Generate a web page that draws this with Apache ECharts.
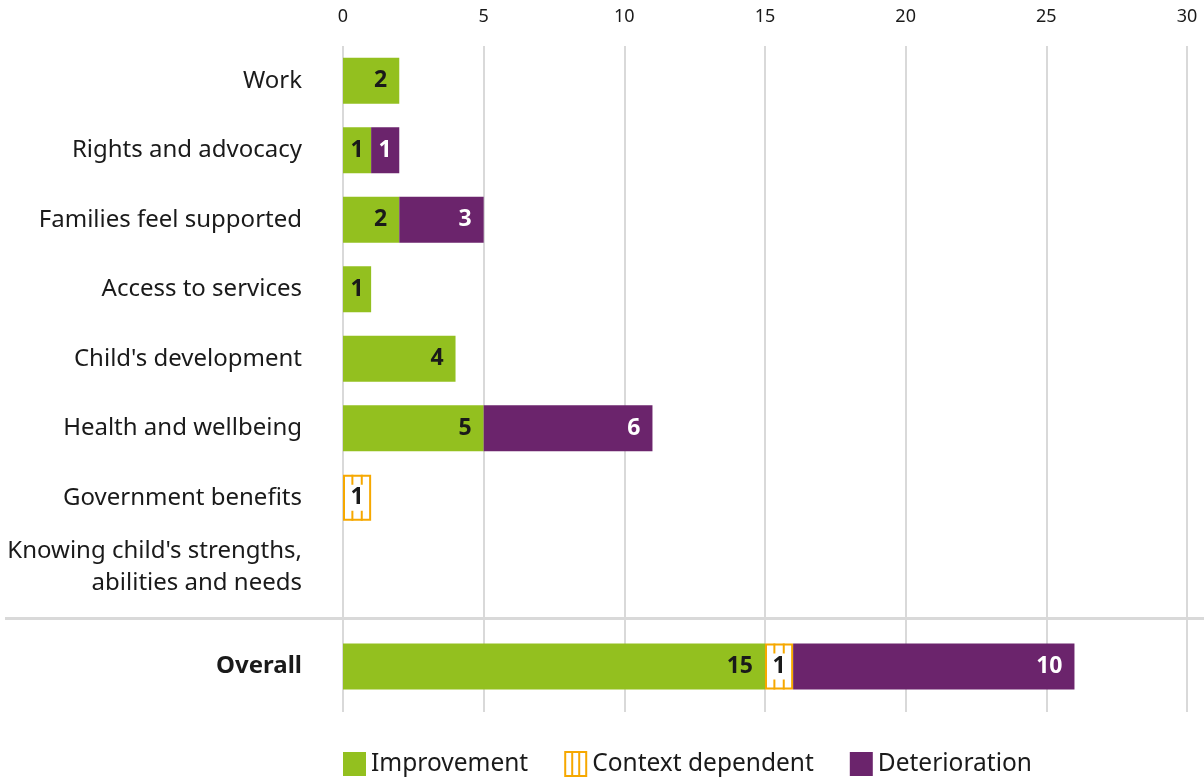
<!DOCTYPE html>
<html>
<head>
<meta charset="utf-8">
<script src="https://cdn.jsdelivr.net/npm/echarts@6/dist/echarts.min.js"></script>
<style>
html,body{margin:0;padding:0;background:#fff;}
#chart{width:1204px;height:779px;}
</style>
</head>
<body>
<div id="chart"></div>
<script>
const categories = ['Work', 'Rights and advocacy', 'Families feel supported', 'Access to services',
  "Child's development", 'Health and wellbeing', 'Government benefits',
  "Knowing child's strengths,\nabilities and needs"];
const improvement = [2, 1, 2, 1, 4, 5, null, null];
const contextDependent = [null, null, null, null, null, null, 1, null];
const deterioration = [null, 1, 3, null, null, 6, null, null];

const overallCategory = ['Overall'];
const overallImprovement = [15];
const overallContext = [1];
const overallDeterioration = [10];

const xMin = 0, xMax = 30, xInterval = 5;

const FONT = 'Noto Sans';
const GREEN = '#93c01f', PURPLE = '#6b246c', ORANGE = '#f6a800', TEXT = '#1a1a1a';
const BAR_W = 46;

function ctxTicks(impr, ctx) {
  const out = [];
  ctx.forEach((v, i) => {
    if (v) { const s = impr[i] || 0; out.push([s, s + v, i]); }
  });
  return out;
}

// narrow (single-unit) segments get their label centred
function withLabelPos(arr) {
  return arr.map(v => (v === 1 ? {value: v, label: {position: 'inside'}} : v));
}

function renderTicks(params, api) {
  const s = api.value(0), e = api.value(1), c = api.value(2);
  const p0 = api.coord([s, c]), p1 = api.coord([e, c]);
  const top = p0[1] - BAR_W / 2, bot = p0[1] + BAR_W / 2;
  const w = p1[0] - p0[0];
  const kids = [];
  [1 / 3, 2 / 3].forEach(f => {
    const x = p0[0] + w * f;
    kids.push({type: 'line', shape: {x1: x, y1: top, x2: x, y2: top + 10}, style: {stroke: ORANGE, lineWidth: 2}});
    kids.push({type: 'line', shape: {x1: x, y1: bot - 10, x2: x, y2: bot}, style: {stroke: ORANGE, lineWidth: 2}});
  });
  return {type: 'group', children: kids};
}

const labelBase = {show: true, position: 'insideRight', distance: 12, fontFamily: FONT, fontSize: 23, fontWeight: 'bold'};

function barSeries(name, data, xi, color, extra) {
  return Object.assign({
    name: name, type: 'bar', stack: 's' + xi, xAxisIndex: xi, yAxisIndex: xi,
    barWidth: BAR_W, data: data, itemStyle: {color: color}
  }, extra);
}

const chart = echarts.init(document.getElementById('chart'));
chart.setOption({
  backgroundColor: '#fff',
  animation: false,
  textStyle: {fontFamily: FONT},
  grid: [
    {left: 343, right: 17, top: 46, height: 666},
    {left: 343, right: 17, top: 46, height: 556},
    {left: 343, right: 17, top: 621, height: 91}
  ],
  xAxis: [
    {gridIndex: 0, type: 'value', position: 'top', min: xMin, max: xMax, interval: xInterval,
      axisLine: {show: false}, axisTick: {show: false},
      axisLabel: {fontFamily: FONT, fontSize: 18, color: TEXT, margin: 20},
      splitLine: {lineStyle: {color: '#d9d9d9', width: 2}}},
    {gridIndex: 1, type: 'value', min: xMin, max: xMax, show: false},
    {gridIndex: 2, type: 'value', min: xMin, max: xMax, show: false}
  ],
  yAxis: [
    {gridIndex: 0, type: 'value', show: false},
    {gridIndex: 1, type: 'category', inverse: true, data: categories,
      axisLine: {show: false}, axisTick: {show: false},
      axisLabel: {fontFamily: FONT, fontSize: 24, color: TEXT, margin: 41, lineHeight: 32, align: 'right'}},
    {gridIndex: 2, type: 'category', inverse: true, data: overallCategory,
      axisLine: {show: false}, axisTick: {show: false},
      axisLabel: {fontFamily: FONT, fontSize: 24, fontWeight: 'bold', color: TEXT, margin: 41}}
  ],
  legend: {
    left: 343, top: 751, itemWidth: 23, itemHeight: 24, itemGap: 36, padding: 0,
    textStyle: {fontFamily: FONT, fontSize: 24.5, color: TEXT},
    data: [
      {name: 'Improvement', icon: 'rect', itemStyle: {color: GREEN, borderWidth: 0}},
      {name: 'Context dependent', icon: 'path://M0,0H21V24H0Z M7,0V24 M14,0V24',
        itemStyle: {color: '#fff', borderColor: ORANGE, borderWidth: 2}},
      {name: 'Deterioration', icon: 'rect', itemStyle: {color: PURPLE, borderWidth: 0}}
    ]
  },
  graphic: [
    {type: 'rect', z: 1, shape: {x: 5, y: 617, width: 1199, height: 3}, style: {fill: '#d9d9d9'}}
  ],
  series: [
    barSeries('Improvement', withLabelPos(improvement), 1, GREEN, {label: Object.assign({}, labelBase, {color: TEXT})}),
    barSeries('Context dependent', contextDependent, 1, '#fff', {
      itemStyle: {color: '#fff', borderColor: ORANGE, borderWidth: 2},
      label: Object.assign({}, labelBase, {position: 'inside', color: TEXT})}),
    barSeries('Deterioration', withLabelPos(deterioration), 1, PURPLE, {label: Object.assign({}, labelBase, {color: '#fff'})}),
    {type: 'custom', xAxisIndex: 1, yAxisIndex: 1, renderItem: renderTicks, data: ctxTicks(improvement, contextDependent), z: 3, silent: true},

    barSeries('Improvement', overallImprovement, 2, GREEN, {label: Object.assign({}, labelBase, {color: TEXT})}),
    barSeries('Context dependent', overallContext, 2, '#fff', {
      itemStyle: {color: '#fff', borderColor: ORANGE, borderWidth: 2},
      label: Object.assign({}, labelBase, {position: 'inside', color: TEXT})}),
    barSeries('Deterioration', overallDeterioration, 2, PURPLE, {label: Object.assign({}, labelBase, {color: '#fff'})}),
    {type: 'custom', xAxisIndex: 2, yAxisIndex: 2, renderItem: renderTicks, data: ctxTicks(overallImprovement, overallContext), z: 3, silent: true}
  ]
});
</script>
</body>
</html>
